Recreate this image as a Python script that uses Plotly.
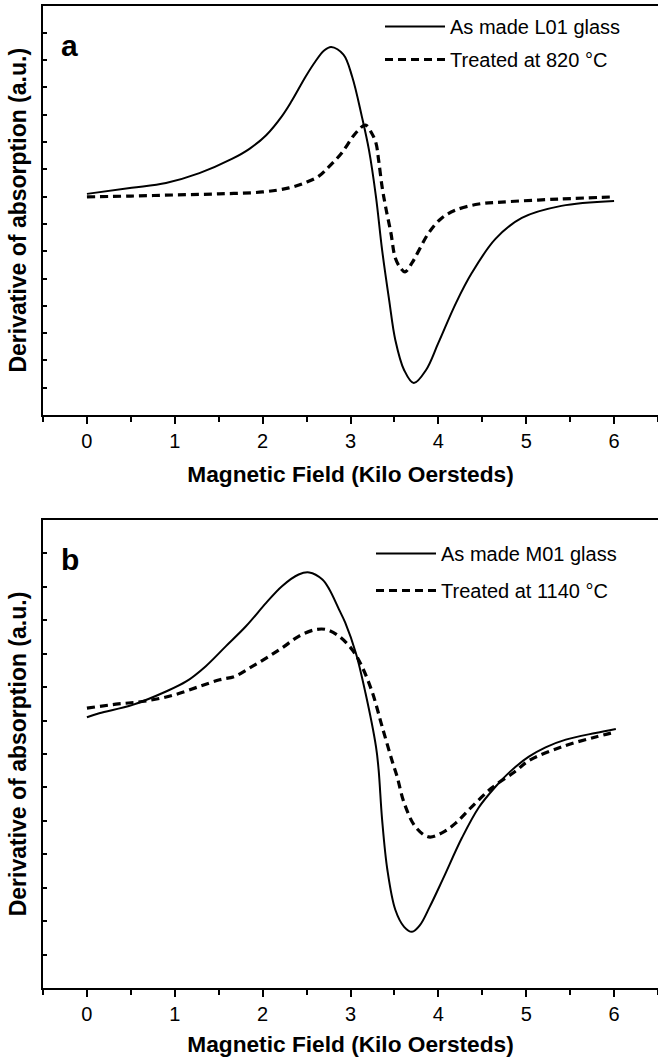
import plotly.graph_objects as go

# ---------------- data (arbitrary units) ----------------
# Panel a
a_made_x = [0, 0.51, 0.90, 1.28, 1.65, 1.85, 2.04, 2.22, 2.33, 2.49, 2.60, 2.70, 2.78, 2.92, 3.02,
            3.13, 3.21, 3.29, 3.36, 3.44, 3.51, 3.61, 3.72, 3.86, 4.00, 4.20, 4.38, 4.65, 4.95, 5.40, 6.00]
a_made_y = [8.10, 8.32, 8.50, 8.86, 9.38, 9.75, 10.25, 10.95, 11.50, 12.40, 12.95, 13.35, 13.48, 13.20, 12.38,
            10.92, 9.71, 7.99, 6.04, 4.21, 2.75, 1.65, 1.17, 1.65, 2.64, 4.10, 5.20, 6.45, 7.22, 7.66, 7.84]

a_treat_x = [0, 0.5, 1.0, 1.5, 2.0, 2.3, 2.5, 2.64, 2.75, 2.90, 3.06, 3.17, 3.24, 3.29, 3.32, 3.36,
             3.40, 3.46, 3.51, 3.57, 3.62, 3.70, 3.78, 3.89, 4.04, 4.20, 4.46, 4.72, 5.37, 6.0]
a_treat_y = [7.99, 8.02, 8.06, 8.10, 8.17, 8.32, 8.53, 8.75, 9.08, 9.60, 10.33, 10.62, 10.33, 9.96, 9.34, 8.35,
             7.62, 6.67, 5.75, 5.38, 5.24, 5.57, 6.04, 6.67, 7.22, 7.51, 7.73, 7.80, 7.91, 7.99]

# Panel b
b_made_x = [0, 0.14, 0.52, 0.90, 1.13, 1.35, 1.58, 1.81, 2.04, 2.22, 2.41, 2.53, 2.68, 2.76, 2.87, 2.94,
            3.06, 3.17, 3.29, 3.32, 3.36, 3.42, 3.51, 3.61, 3.70, 3.79, 3.90, 4.05, 4.27, 4.46, 4.65, 4.82,
            5.03, 5.22, 5.45, 5.79, 6.02]
b_made_y = [8.10, 8.22, 8.47, 8.87, 9.17, 9.62, 10.22, 10.82, 11.52, 12.02, 12.37, 12.43, 12.22, 11.92, 11.32, 10.93,
            10.03, 8.83, 7.22, 6.53, 5.03, 3.53, 2.34, 1.83, 1.68, 1.88, 2.42, 3.25, 4.50, 5.40, 6.02, 6.48,
            6.92, 7.20, 7.43, 7.63, 7.75]

b_treat_x = [0, 0.33, 0.63, 0.97, 1.28, 1.51, 1.68, 1.85, 2.04, 2.22, 2.41, 2.60, 2.73, 2.87, 3.02, 3.13,
             3.25, 3.36, 3.48, 3.53, 3.61, 3.74, 3.89, 4.04, 4.20, 4.38, 4.61, 4.87, 5.03, 5.41, 5.79, 6.02]
b_treat_y = [8.37, 8.49, 8.57, 8.75, 9.02, 9.22, 9.32, 9.57, 9.87, 10.17, 10.52, 10.72, 10.72, 10.52, 10.12, 9.62,
             8.83, 7.82, 6.74, 6.33, 5.54, 4.82, 4.52, 4.64, 4.94, 5.42, 5.99, 6.47, 6.80, 7.22, 7.51, 7.66]

names_a = ["As made L01 glass", "Treated at 820 \u00b0C"]
names_b = ["As made M01 glass", "Treated at 1140 \u00b0C"]
panel_labels = ["a", "b"]
x_title = "Magnetic Field (Kilo Oersteds)"
y_title = "Derivative of absorption (a.u.)"

FONT = "Liberation Sans, Arial, Helvetica, sans-serif"
solid = dict(color="black", width=2, shape="spline", smoothing=1.0)
dashed = dict(color="black", width=3.2, dash="8px,5px", shape="spline", smoothing=1.0)

fig = go.Figure()
fig.add_trace(go.Scatter(x=a_made_x, y=a_made_y, mode="lines", line=solid, name=names_a[0],
                         xaxis="x", yaxis="y", legend="legend", legendgroup="a1"))
fig.add_trace(go.Scatter(x=a_treat_x, y=a_treat_y, mode="lines", line=dashed, name=names_a[1],
                         xaxis="x", yaxis="y", legend="legend", legendgroup="a2"))
fig.add_trace(go.Scatter(x=b_made_x, y=b_made_y, mode="lines", line=solid, name=names_b[0],
                         xaxis="x2", yaxis="y2", legend="legend2", legendgroup="b1"))
fig.add_trace(go.Scatter(x=b_treat_x, y=b_treat_y, mode="lines", line=dashed, name=names_b[1],
                         xaxis="x2", yaxis="y2", legend="legend2", legendgroup="b2"))

H = 1059.0

def xax(anchor, standoff):
    return dict(anchor=anchor, domain=[0, 1], range=[-0.5, 6.5], tick0=0, dtick=1,
                ticks="outside", ticklen=7, tickwidth=2, tickcolor="black",
                minor=dict(dtick=0.5, tick0=0, ticks="outside", ticklen=5, tickwidth=2, tickcolor="black"),
                showline=True, linewidth=2, linecolor="black", mirror=True,
                showgrid=False, zeroline=False,
                tickfont=dict(family=FONT, size=20, color="black"),
                title=dict(text="<b>" + x_title + "</b>", font=dict(family=FONT, size=22.7, color="black"),
                           standoff=standoff),
                automargin=False)

def yax(anchor, dom, top):
    return dict(anchor=anchor, domain=dom, range=[0, top], tick0=0, dtick=1,
                ticks="inside", ticklen=4, tickwidth=2, tickcolor="black",
                showticklabels=False,
                showline=True, linewidth=2, linecolor="black", mirror=False,
                showgrid=False, zeroline=False,
                title=dict(text="<b>" + y_title + "</b>", font=dict(family=FONT, size=23, color="black"),
                           standoff=8),
                automargin=False)

fig.update_layout(
    width=658, height=1059,
    margin=dict(l=43, r=0, t=0, b=0),
    paper_bgcolor="white", plot_bgcolor="white",
    font=dict(family=FONT, color="black"),
    xaxis=xax("y", 15),
    yaxis=yax("x", [1 - 415 / H, 1 - 5.5 / H], 15),
    xaxis2=xax("y2", 12),
    yaxis2=yax("x2", [1 - 988 / H, 1 - 520 / H], 14),
    legend=dict(x=(385 - 43 - 5) / 615, y=1 - 7 / H, xanchor="left", yanchor="top",
                bgcolor="rgba(0,0,0,0)", itemwidth=60, tracegroupgap=4, traceorder="grouped",
                font=dict(family=FONT, size=20, color="black")),
    legend2=dict(x=(376 - 43 - 5) / 615, y=1 - 534 / H, xanchor="left", yanchor="top",
                 bgcolor="rgba(0,0,0,0)", itemwidth=60, tracegroupgap=8, traceorder="grouped",
                 font=dict(family=FONT, size=20, color="black")),
    showlegend=True,
)

for lab, ypix in zip(panel_labels, [46, 559]):
    fig.add_annotation(text="<b>" + lab + "</b>", xref="paper", yref="paper",
                       x=(59 - 43) / 615, y=1 - ypix / H, xanchor="left", yanchor="middle",
                       showarrow=False, font=dict(family=FONT, size=30, color="black"))

fig.write_html("out.html", config={"displayModeBar": False},
               post_script="document.body.style.margin='0px';document.body.style.padding='0px';")
